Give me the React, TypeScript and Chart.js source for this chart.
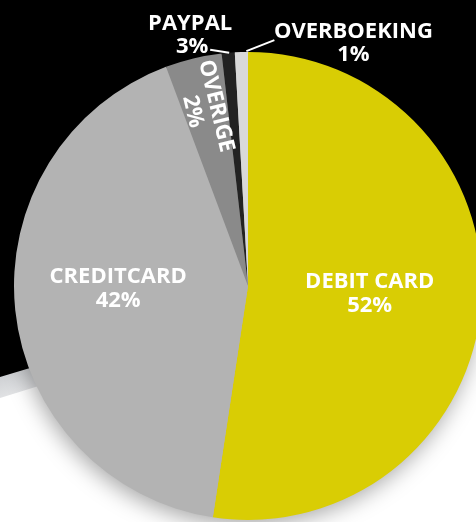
import { useEffect, useRef } from "react";
import { Chart, registerables } from "chart.js";

Chart.register(...registerables);

const categories = ["DEBIT CARD", "CREDITCARD", "OVERIGE", "PAYPAL", "OVERBOEKING"];
const sliceValues = [52.4, 41.9, 3.9, 0.9, 0.9];
const percentLabels = ["52%", "42%", "2%", "3%", "1%"];
const sliceColors = ["#d9cd04", "#b3b3b3", "#8a8a8a", "#222222", "#d9d9d9"];

const FONT = "bold 22px 'Open Sans', sans-serif";
const LINE = 24;

const backgroundPlugin = {
  id: "bgPanel",
  beforeDraw(chart: any) {
    const { ctx, width, height } = chart;
    ctx.save();
    ctx.fillStyle = "#ffffff";
    ctx.fillRect(0, 0, width, height);
    // light strip under the black panel
    const g = ctx.createLinearGradient(0, 377, 8, 400);
    g.addColorStop(0, "#cfd1d4");
    g.addColorStop(1, "#e4e5e7");
    ctx.fillStyle = g;
    ctx.beginPath();
    ctx.moveTo(0, 370);
    ctx.lineTo(width, 370 - 0.3 * width);
    ctx.lineTo(width, 398 - 0.31 * width);
    ctx.lineTo(0, 398);
    ctx.closePath();
    ctx.fill();
    // black panel
    ctx.fillStyle = "#000000";
    ctx.beginPath();
    ctx.moveTo(0, 0);
    ctx.lineTo(width, 0);
    ctx.lineTo(width, 377 - 0.3 * width);
    ctx.lineTo(0, 377);
    ctx.closePath();
    ctx.fill();
    ctx.restore();
  },
  beforeDatasetsDraw(chart: any) {
    const meta = chart.getDatasetMeta(0);
    const arc = meta.data[0];
    if (!arc) return;
    const { x, y, outerRadius } = arc.getProps(["x", "y", "outerRadius"], true);
    const ctx = chart.ctx;
    ctx.save();
    ctx.shadowColor = "rgba(0,0,0,0.35)";
    ctx.shadowBlur = 22;
    ctx.shadowOffsetX = -2;
    ctx.shadowOffsetY = 6;
    ctx.fillStyle = "#b3b3b3";
    ctx.beginPath();
    ctx.arc(x, y, outerRadius - 1, 0, Math.PI * 2);
    ctx.fill();
    ctx.restore();
  },
};

const labelPlugin = {
  id: "sliceLabels",
  afterDatasetsDraw(chart: any) {
    const ctx = chart.ctx;
    const meta = chart.getDatasetMeta(0);
    ctx.save();
    ctx.font = FONT;
    ctx.fillStyle = "#ffffff";
    ctx.textAlign = "center";
    ctx.textBaseline = "middle";
    meta.data.forEach((arc: any, i: number) => {
      const { x, y, startAngle, endAngle, outerRadius } = arc.getProps(
        ["x", "y", "startAngle", "endAngle", "outerRadius"],
        true
      );
      const mid = (startAngle + endAngle) / 2;
      const r = outerRadius;
      const name = categories[i];
      const pct = percentLabels[i];
      if (i === 0) {
        const cx = x + r * 0.52;
        const cy = y + r * 0.032;
        ctx.fillText(name, cx, cy - LINE / 2);
        ctx.fillText(pct, cx, cy + LINE / 2);
      } else if (i === 1) {
        const cx = x - r * 0.555;
        const cy = y + r * 0.013;
        ctx.fillText(name, cx, cy - LINE / 2);
        ctx.fillText(pct, cx, cy + LINE / 2);
      } else if (i === 2) {
        const cx = x + Math.cos(mid) * r * 0.78;
        const cy = y + Math.sin(mid) * r * 0.78;
        ctx.save();
        ctx.translate(cx, cy);
        ctx.rotate(mid + Math.PI);
        ctx.fillText(name, 0, -LINE / 2 + 1);
        ctx.fillText(pct, 0, LINE / 2 + 1);
        ctx.restore();
      } else {
        const ex = x + Math.cos(mid) * r;
        const ey = y + Math.sin(mid) * r;
        ctx.strokeStyle = "#ffffff";
        ctx.lineWidth = 2;
        ctx.beginPath();
        if (i === 3) {
          ctx.moveTo(ex + 1, ey);
          ctx.lineTo(ex - 18, ey - 3);
          ctx.stroke();
          ctx.fillText(name, ex - 38, ey - 29);
          ctx.fillText(pct, ex - 36, ey - 6);
        } else {
          ctx.moveTo(ex + 5, ey - 1);
          ctx.lineTo(ex + 33, ey - 12);
          ctx.stroke();
          ctx.fillText(name, ex + 112, ey - 20);
          ctx.fillText(pct, ex + 112, ey + 3);
        }
      }
    });
    ctx.restore();
  },
};

export default function App() {
  const canvasRef = useRef<HTMLCanvasElement | null>(null);

  useEffect(() => {
    if (!canvasRef.current) return;
    const chart = new Chart(canvasRef.current, {
      type: "pie",
      data: {
        labels: categories,
        datasets: [
          {
            data: sliceValues,
            backgroundColor: sliceColors,
            borderWidth: 0,
          },
        ],
      },
      options: {
        animation: false,
        responsive: true,
        maintainAspectRatio: false,
        events: [],
        layout: { padding: { left: 14, right: 8, top: 52, bottom: 2 } },
        plugins: {
          legend: { display: false },
          tooltip: { enabled: false },
        },
      },
      plugins: [backgroundPlugin, labelPlugin],
    });
    return () => chart.destroy();
  }, []);

  return (
    <div
      style={{
        position: "fixed",
        left: 0,
        top: 0,
        width: 476,
        height: 522,
        overflow: "hidden",
        background: "#ffffff",
      }}
    >
      <div style={{ position: "relative", width: 490, height: 522 }}>
        <canvas ref={canvasRef} />
      </div>
    </div>
  );
}
